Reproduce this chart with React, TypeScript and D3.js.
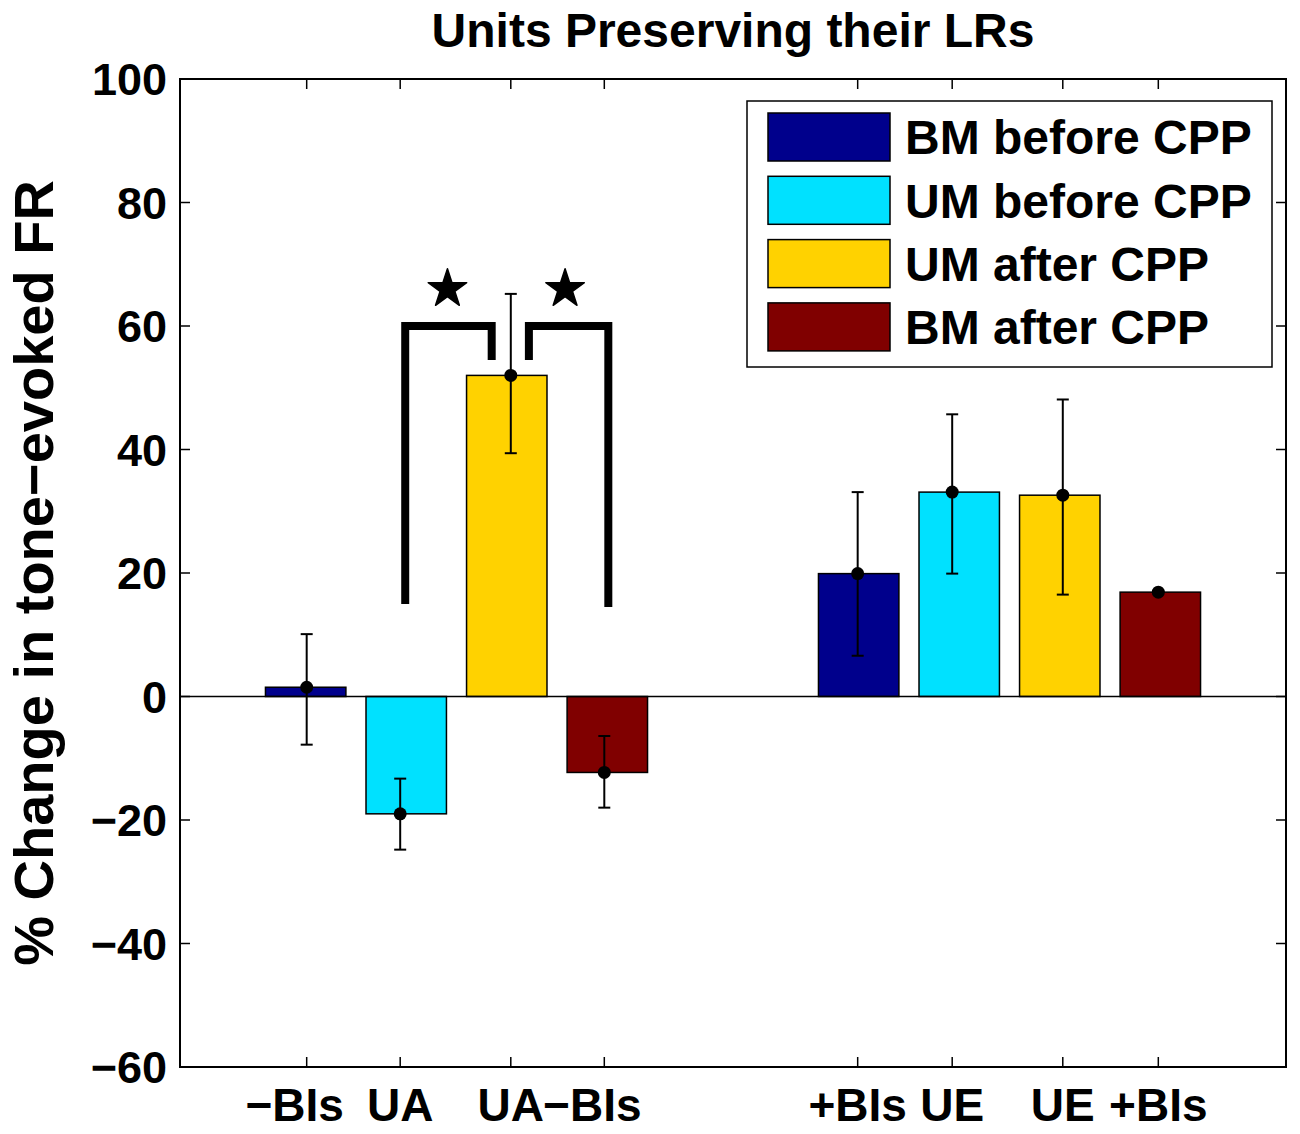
import * as d3 from 'd3'

// values
const seriesNames = ['BM before CPP', 'UM before CPP', 'UM after CPP', 'BM after CPP']
const seriesColors = ['#00008C', '#00E1FF', '#FFD200', '#800000']

const tickLabels = ['−BIs', 'UA', 'UA', '−BIs', '+BIs', 'UE', 'UE', '+BIs']
const barPos = [1.25, 2.25, 3.25, 4.25, 6.75, 7.75, 8.75, 9.75]
const barSeries = [0, 1, 2, 3, 0, 1, 2, 3]
const means = [1.5, -19.0, 52.0, -12.3, 19.9, 33.1, 32.6, 16.9]
const errLow = [-7.8, -24.8, 39.4, -18.0, 6.6, 19.9, 16.5, 16.9]
const errHigh = [10.1, -13.3, 65.2, -6.4, 33.1, 45.7, 48.1, 16.9]
const errPos = [1.26, 2.19, 3.29, 4.22, 6.74, 7.68, 8.78, 9.73]

const yTicks = [-60, -40, -20, 0, 20, 40, 60, 80, 100]

const brackets: [number, number][][] = [
  [[2.24, 15], [2.24, 60], [3.1, 60], [3.1, 54.5]],
  [[3.47, 54.5], [3.47, 60], [4.26, 60], [4.26, 14.5]],
]
const stars: [number, number][] = [[2.66, 66], [3.83, 66]]

const W = 1300
const H = 1134
const margin = { top: 79, right: 14, bottom: 67, left: 180 }
const font = '"Liberation Sans", Arial, Helvetica, sans-serif'

export default function App() {
  const x = d3.scaleLinear().domain([0, 11]).range([margin.left, W - margin.right])
  const y = d3.scaleLinear().domain([-60, 100]).range([H - margin.bottom, margin.top])
  const x0 = x.range()[0], x1 = x.range()[1]
  const y0 = y.range()[1], y1 = y.range()[0]
  const barW = x(0.8) - x(0)
  const tick = 10
  const line = d3.line<[number, number]>().x(d => x(d[0])).y(d => y(d[1]))
  const star = d3.symbol(d3.symbolStar, 460)()

  return (
    <svg width={W} height={H} style={{ position: 'absolute', left: 0, top: 0, background: '#fff' }}
      fontFamily={font} fontWeight="bold">
      <rect width={W} height={H} fill="#fff" />

      <text x={(x0 + x1) / 2} y={47} textAnchor="middle" fontSize={48}>Units Preserving their LRs</text>

      {/* bars */}
      {means.map((m, i) => (
        <rect key={'b' + i}
          x={x(barPos[i]) - barW / 2} width={barW}
          y={Math.min(y(m), y(0))} height={Math.abs(y(m) - y(0))}
          fill={seriesColors[barSeries[i]]} stroke="#000" strokeWidth={1.5} />
      ))}

      <line x1={x0} x2={x1} y1={y(0)} y2={y(0)} stroke="#000" strokeWidth={1.5} />

      {/* error bars */}
      {means.map((m, i) => {
        const cx = x(errPos[i])
        const cap = 6
        return (
          <g key={'e' + i} stroke="#000" strokeWidth={2}>
            <line x1={cx} x2={cx} y1={y(errLow[i])} y2={y(errHigh[i])} />
            <line x1={cx - cap} x2={cx + cap} y1={y(errLow[i])} y2={y(errLow[i])} />
            <line x1={cx - cap} x2={cx + cap} y1={y(errHigh[i])} y2={y(errHigh[i])} />
            <circle cx={cx} cy={y(m)} r={6.5} fill="#000" stroke="none" />
          </g>
        )
      })}

      {/* significance brackets */}
      {brackets.map((b, i) => (
        <path key={'k' + i} d={line(b) ?? ''} fill="none" stroke="#000" strokeWidth={8}
          strokeLinejoin="miter" strokeLinecap="butt" />
      ))}
      {stars.map((s, i) => (
        <path key={'s' + i} d={star ?? ''} transform={`translate(${x(s[0])},${y(s[1])})`}
          fill="#000" stroke="#000" strokeWidth={1.5} strokeLinejoin="round" />
      ))}

      {/* axes box */}
      <rect x={x0} y={y0} width={x1 - x0} height={y1 - y0} fill="none" stroke="#000" strokeWidth={2} />
      {yTicks.map(t => (
        <g key={'y' + t}>
          <line x1={x0} x2={x0 + tick} y1={y(t)} y2={y(t)} stroke="#000" strokeWidth={1.5} />
          <line x1={x1} x2={x1 - tick} y1={y(t)} y2={y(t)} stroke="#000" strokeWidth={1.5} />
          <text x={x0 - 13} y={y(t)} dy="0.36em" textAnchor="end" fontSize={45}>{d3.format('d')(t)}</text>
        </g>
      ))}
      {errPos.map((p, i) => (
        <g key={'x' + i}>
          <line x1={x(p)} x2={x(p)} y1={y1} y2={y1 - tick} stroke="#000" strokeWidth={1.5} />
          <line x1={x(p)} x2={x(p)} y1={y0} y2={y0 + tick} stroke="#000" strokeWidth={1.5} />
          <text x={x(p)} dx={tickLabels[i].startsWith('−') ? -12 : 0} y={1121} textAnchor="middle" fontSize={46}>
            {tickLabels[i]}
          </text>
        </g>
      ))}

      <text transform={`translate(53,${(y0 + y1) / 2}) rotate(-90)`} textAnchor="middle" fontSize={56}>
        % Change in tone−evoked FR
      </text>

      {/* legend */}
      <g>
        <rect x={747} y={101} width={525} height={266} fill="#fff" stroke="#000" strokeWidth={1.5} />
        {seriesNames.map((n, i) => (
          <g key={'l' + i} transform={`translate(768,${113 + i * 63.3})`}>
            <rect width={122} height={48} fill={seriesColors[i]} stroke="#000" strokeWidth={1.5} />
            <text x={137} y={24} dy="0.36em" fontSize={48}>{n}</text>
          </g>
        ))}
      </g>
    </svg>
  )
}
